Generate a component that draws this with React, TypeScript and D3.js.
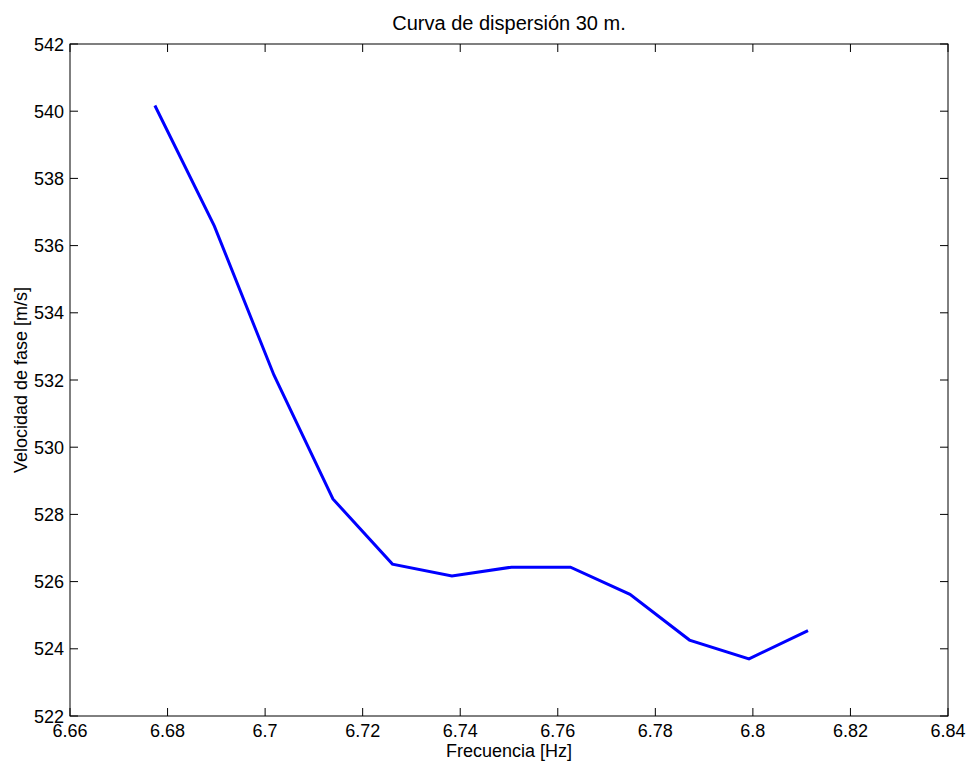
import React from "react";
import * as d3 from "d3";

const freq = [6.6774, 6.6896, 6.7018, 6.7139, 6.7261, 6.7383, 6.7505, 6.7626, 6.7748, 6.787, 6.7992, 6.8113];
const vel = [540.17, 536.58, 532.15, 528.46, 526.52, 526.17, 526.43, 526.43, 525.62, 524.26, 523.7, 524.54];
const xTicks = [6.66, 6.68, 6.7, 6.72, 6.74, 6.76, 6.78, 6.8, 6.82, 6.84];
const yTicks = [522, 524, 526, 528, 530, 532, 534, 536, 538, 540, 542];
const title = "Curva de dispersión 30 m.";
const xLabel = "Frecuencia [Hz]";
const yLabel = "Velocidad de fase [m/s]";

export default function App() {
  const W = 968, H = 764;
  const L = 70, R = 948, T = 44, B = 716;
  const x = d3.scaleLinear().domain([6.66, 6.84]).range([L, R]);
  const y = d3.scaleLinear().domain([522, 542]).range([B, T]);
  const line = d3.line<number>().x((_, i) => x(freq[i])).y((d) => y(d));
  const tl = 8;
  const font = "Liberation Sans, Arial, sans-serif";
  const fs = 18;
  return (
    <svg width={W} height={H} style={{ position: "absolute", left: 0, top: 0 }}>
      <rect x={0} y={0} width={W} height={H} fill="#fff" />
      <rect x={L} y={T} width={R - L} height={B - T} fill="#fff" stroke="#000" strokeWidth={1} />
      {xTicks.map((t) => (
        <g key={"x" + t}>
          <line x1={x(t)} x2={x(t)} y1={B} y2={B - tl} stroke="#000" />
          <line x1={x(t)} x2={x(t)} y1={T} y2={T + tl} stroke="#000" />
          <text x={x(t)} y={B + 21} textAnchor="middle" fontFamily={font} fontSize={fs}>{String(t)}</text>
        </g>
      ))}
      {yTicks.map((t) => (
        <g key={"y" + t}>
          <line x1={L} x2={L + tl} y1={y(t)} y2={y(t)} stroke="#000" />
          <line x1={R} x2={R - tl} y1={y(t)} y2={y(t)} stroke="#000" />
          <text x={L - 6} y={y(t) + 6.5} textAnchor="end" fontFamily={font} fontSize={fs}>{String(t)}</text>
        </g>
      ))}
      <path d={line(vel) || ""} fill="none" stroke="#0000ff" strokeWidth={3} strokeLinejoin="miter" />
      <text x={(L + R) / 2} y={30} textAnchor="middle" fontFamily={font} fontSize={20}>{title}</text>
      <text x={(L + R) / 2} y={757} textAnchor="middle" fontFamily={font} fontSize={fs}>{xLabel}</text>
      <text transform={`translate(27,${(T + B) / 2}) rotate(-90)`} textAnchor="middle" fontFamily={font} fontSize={fs}>{yLabel}</text>
    </svg>
  );
}
